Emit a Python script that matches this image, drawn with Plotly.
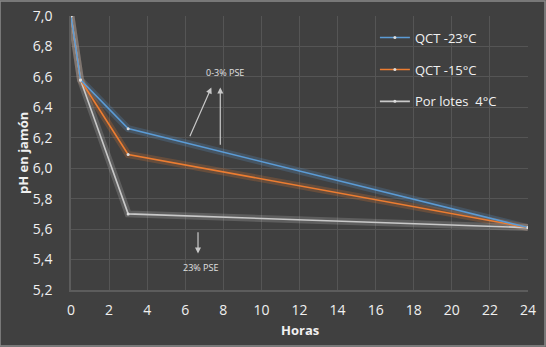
import plotly.graph_objects as go

horas = [0, 0.5, 3, 24]
qct_23 = [7.0, 6.58, 6.26, 5.61]
qct_15 = [7.0, 6.58, 6.09, 5.61]
por_lotes = [7.0, 6.58, 5.70, 5.61]
names = ["QCT -23°C", "QCT -15°C", "Por lotes  4°C"]
colors = ["#5B9BD5", "#ED7D31", "#C9C9C9"]
series = [qct_23, qct_15, por_lotes]

BG = "#404040"
FONT = "Open Sans"

fig = go.Figure()
# glow
for ys, c in zip(series, colors):
    fig.add_trace(go.Scatter(x=horas, y=ys, mode="lines", line=dict(color=c, width=7),
                             opacity=0.22, showlegend=False, hoverinfo="skip"))
order = [2, 1, 0]
for i in order:
    fig.add_trace(go.Scatter(x=horas, y=series[i], mode="lines+markers", name=names[i],
                             line=dict(color=colors[i], width=1.6),
                             marker=dict(size=3, color="#dddddd"),
                             legendrank=i + 1, legendgroup=str(i)))

arrow = dict(showarrow=True, arrowhead=2, arrowsize=1, arrowwidth=1.2,
             arrowcolor="#c8c8c8", axref="x", ayref="y", text="")
fig.add_annotation(x=7.37, y=6.53, ax=6.21, ay=6.20, **arrow)
fig.add_annotation(x=7.84, y=6.53, ax=7.84, ay=6.145, **arrow)
fig.add_annotation(x=6.67, y=5.44, ax=6.67, ay=5.59, **arrow)
fig.add_annotation(x=8.1, y=6.63, text="0-3% PSE", showarrow=False,
                   font=dict(size=9, color="#e0e0e0", family=FONT))
fig.add_annotation(x=6.79, y=5.35, text="23% PSE", showarrow=False,
                   font=dict(size=9, color="#e0e0e0", family=FONT))

# axis titles
fig.add_annotation(xref="paper", yref="paper", x=(300 - 71) / 457, y=(290 - 330) / 274,
                   text="<b>Horas</b>", showarrow=False, xanchor="center", yanchor="middle",
                   font=dict(size=13, color="#f0f0f0", family=FONT))
fig.add_annotation(xref="paper", yref="paper", x=(23 - 71) / 457, y=(290 - 153) / 274,
                   text="<b>pH en jamón</b>", showarrow=False, textangle=-90,
                   xanchor="center", yanchor="middle",
                   font=dict(size=13, color="#f0f0f0", family=FONT))

fig.add_shape(type="rect", xref="paper", yref="paper",
              x0=-71/457, x1=545/457 - 71/457, y0=-56/274, y1=289/274,
              line=dict(color="#8a8a8a", width=1.5), fillcolor="rgba(0,0,0,0)", layer="below")

fig.update_layout(
    width=546, height=347,
    margin=dict(l=71, r=18, t=16, b=57, autoexpand=False),
    paper_bgcolor=BG, plot_bgcolor=BG,
    font=dict(family=FONT, color="#f0f0f0", size=13),
    legend=dict(x=0.665, y=0.976, xanchor="left", yanchor="top",
                bgcolor="rgba(0,0,0,0)", font=dict(size=13, color="#f0f0f0"),
                tracegroupgap=12, itemwidth=30),
    xaxis=dict(range=[0, 24], dtick=2, tick0=0, showgrid=True, gridcolor="#555555",
               zeroline=False, showline=True, linecolor="#5c5c5c", linewidth=1.5,
               ticks="", ticklabelstandoff=6, automargin=False,
               tickfont=dict(size=14, color="#f0f0f0", family=FONT)),
    yaxis=dict(range=[5.2, 7.0], dtick=0.2, tick0=5.2, showgrid=True, gridcolor="#555555",
               zeroline=False, showline=True, linecolor="#5c5c5c", linewidth=1.5,
               ticks="", ticklabelstandoff=14, tickformat=".1f", automargin=False,
               tickfont=dict(size=14, color="#f0f0f0", family=FONT)),
    separators=", ",
)
fig.write_html("out.html")
